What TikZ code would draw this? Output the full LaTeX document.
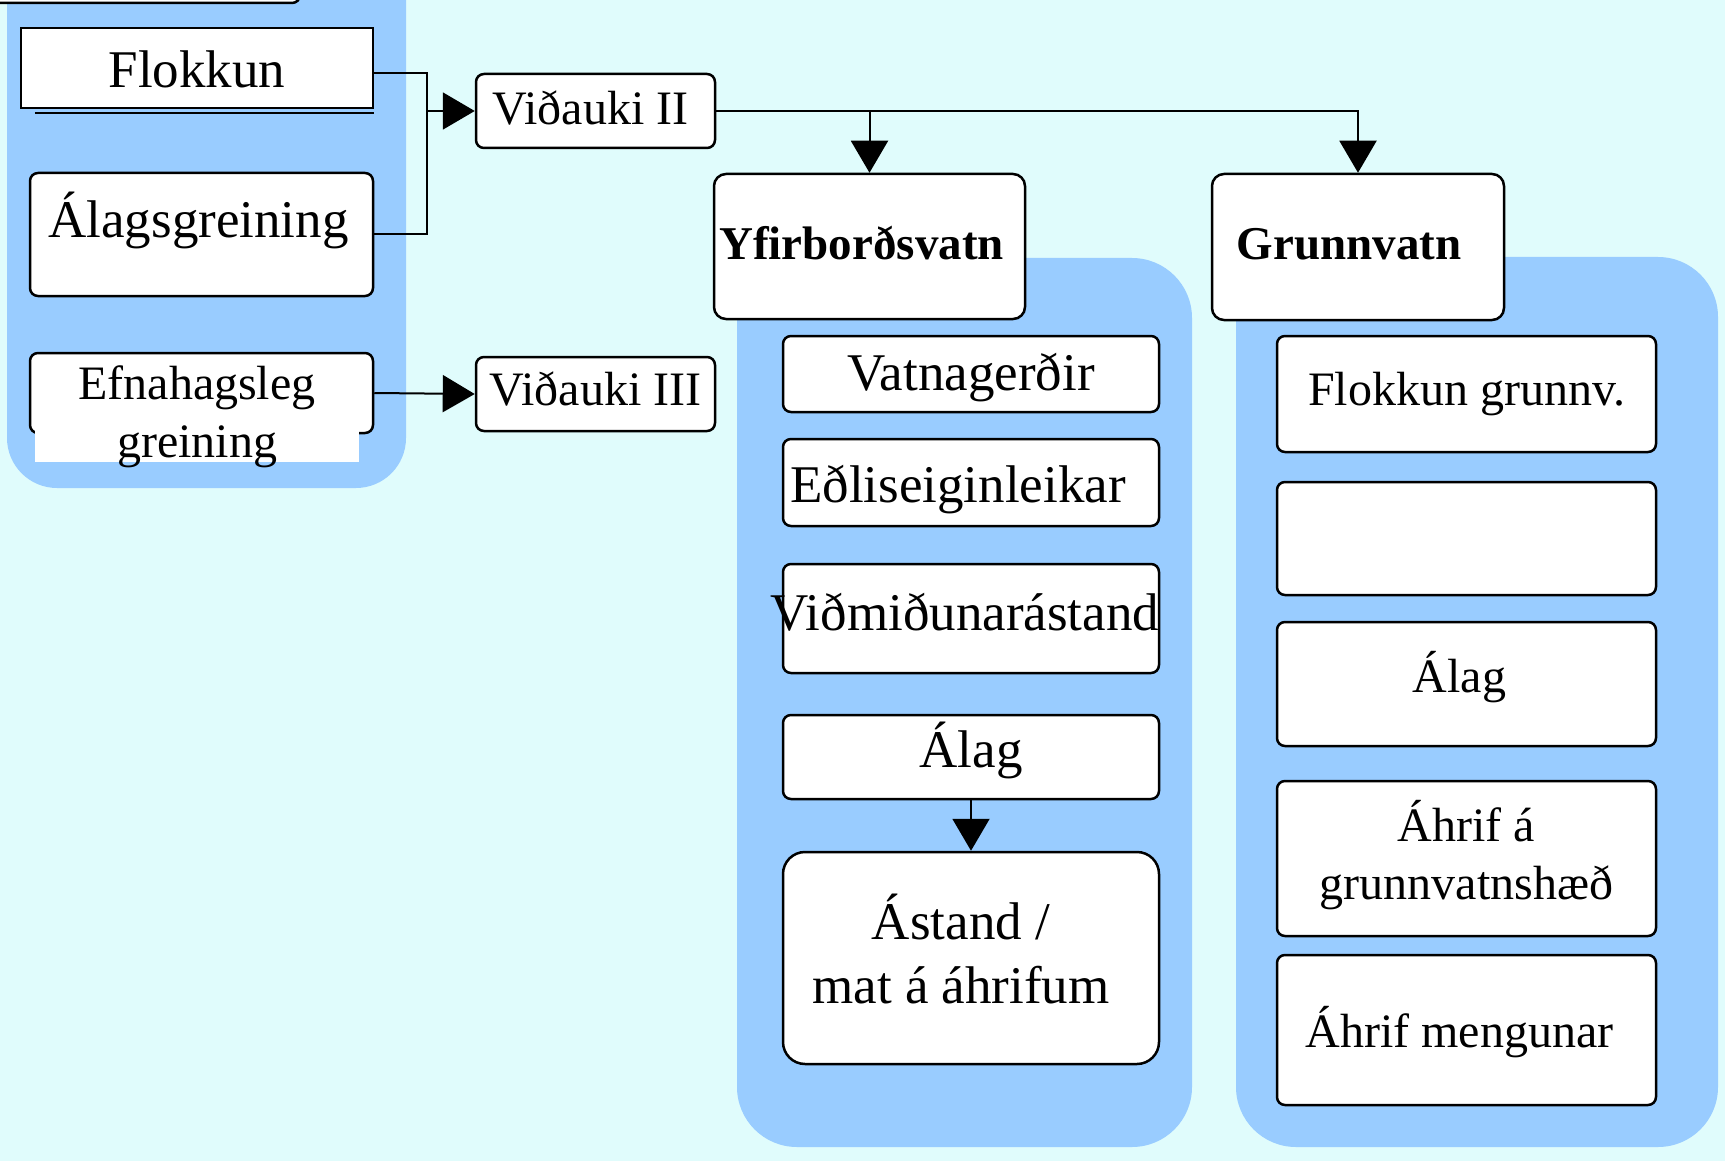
\documentclass[tikz,border=0pt]{standalone}
\usepackage{fontspec}
\setmainfont{Liberation Serif}
\usetikzlibrary{arrows.meta,calc}

\definecolor{sky}{HTML}{E0FCFC}
\definecolor{panel}{HTML}{99CCFF}

\begin{document}
\begin{tikzpicture}[x=1pt,y=-1pt]
\tikzset{wbox/.style={draw,fill=white,line width=2.5pt,rounded corners=8pt,inner sep=0pt},
bigtxt/.style={font=\fontsize{53}{64}\selectfont},
midtxt/.style={font=\fontsize{48}{58}\selectfont},
headtxt/.style={font=\fontsize{47}{56}\selectfont\bfseries},
txtdrop/.style={text height=40pt,text depth=#1pt},
link/.style={line width=2pt},
arr/.style={line width=2pt,-{Triangle[length=32pt,width=37pt]}}}

\useasboundingbox (0,0) rectangle (1725,1161);
\clip (0,0) rectangle (1725,1161);
\fill[sky] (0,0) rectangle (1725,1161);

%% Panels
\fill[panel,rounded corners=50pt] (7,-80) rectangle (406,488);
\fill[panel,rounded corners=60pt] (737,258) rectangle (1192,1147);
\fill[panel,rounded corners=60pt] (1236,257) rectangle (1718,1147);

%% Left column
\node (topbox) [wbox,minimum width=330pt,minimum height=90pt] at (135,-42) {};
\node (flokkun) [wbox,bigtxt,sharp corners,minimum width=352pt,minimum height=80pt,txtdrop=0] at (197,68) {Flokkun};
\draw[line width=2.5pt] ([xshift=15pt,yshift=-4pt]flokkun.south west) -- ([yshift=-4pt]flokkun.south east);
\node (alags) [wbox,bigtxt,minimum width=343pt,minimum height=123pt,txtdrop=33] at (201.5,234.5) {Álagsgreining\hspace*{6pt}};
\node (efna) [wbox,minimum width=343pt,minimum height=80pt] at (201.5,393) {};
\node (efnatxt) [midtxt,fill=white,inner xsep=43pt,inner ysep=-13pt] at (197,417)
  {\begin{tabular}{@{}c@{}}Efnahagsleg\\greining\end{tabular}};

\node (vidauki2) [wbox,midtxt,minimum width=239pt,minimum height=74pt,txtdrop=12] at (595.5,111) {Viðauki II\hspace*{10pt}};
\node (vidauki3) [wbox,midtxt,minimum width=239pt,minimum height=74pt,txtdrop=18] at (595.5,394) {Viðauki III};

%% Heads
\node (yfir) [wbox,headtxt,rounded corners=12pt,minimum width=311pt,minimum height=145pt,txtdrop=13] at (869.5,246.5) {Yfirborðsvatn\hspace*{16pt}};
\node (grunn) [wbox,headtxt,rounded corners=12pt,minimum width=292pt,minimum height=146pt,txtdrop=14] at (1358,247) {Grunnvatn\hspace*{18pt}};

%% Yfirbordsvatn column
\node (vatna) [wbox,bigtxt,minimum width=376pt,minimum height=76pt,txtdrop=8] at (971,374) {Vatnagerðir};
\node (edli) [wbox,bigtxt,minimum width=376pt,minimum height=87pt,txtdrop=1] at (971,482.5) {Eðliseiginleikar\hspace*{26pt}};
\node (vidmid) [wbox,bigtxt,minimum width=376pt,minimum height=109pt,txtdrop=17] at (971,618.5) {\makebox[370pt]{Viðmiðunarástand\hspace*{12pt}}};
\node (alag1) [wbox,bigtxt,minimum width=376pt,minimum height=84pt,txtdrop=20] at (971,757) {Álag};
\node (astand) [wbox,bigtxt,rounded corners=22pt,minimum width=376pt,minimum height=212pt] at (971,958)
  {\begin{tabular}{@{}c@{}}Ástand /\\mat á áhrifum\end{tabular}\hspace*{20pt}};

%% Grunnvatn column
\node (flokg) [wbox,midtxt,minimum width=379pt,minimum height=116pt,txtdrop=18] at (1466.5,394) {Flokkun grunnv.};
\node (blank) [wbox,minimum width=379pt,minimum height=113pt] at (1466.5,538.5) {};
\node (alag2) [wbox,midtxt,minimum width=379pt,minimum height=124pt,txtdrop=24] at (1466.5,684) {Álag\hspace*{14pt}};
\node (ahrif1) [wbox,midtxt,minimum width=379pt,minimum height=155pt] at (1466.5,858.5)
  {\begin{tabular}{@{}c@{}}Áhrif á\\grunnvatnshæð\end{tabular}};
\node (ahrif2) [wbox,midtxt,minimum width=379pt,minimum height=150pt,txtdrop=6] at (1466.5,1030) {Áhrif mengunar\hspace*{14pt}};

%% Edges
\coordinate (bus) at (427,0);
\draw[link] ([yshift=-5pt]flokkun.east) -| (bus |- alags.east) -- (alags.east);
\draw[arr] (bus |- vidauki2.west) -- (vidauki2.west);
\draw[arr] (efna.east) -- (vidauki3.west);
\draw[arr] (vidauki2.east) -| (yfir.north);
\draw[arr] (vidauki2.east) -| (grunn.north);
\draw[arr] (alag1.south) -- (astand.north);

\end{tikzpicture}
\end{document}
